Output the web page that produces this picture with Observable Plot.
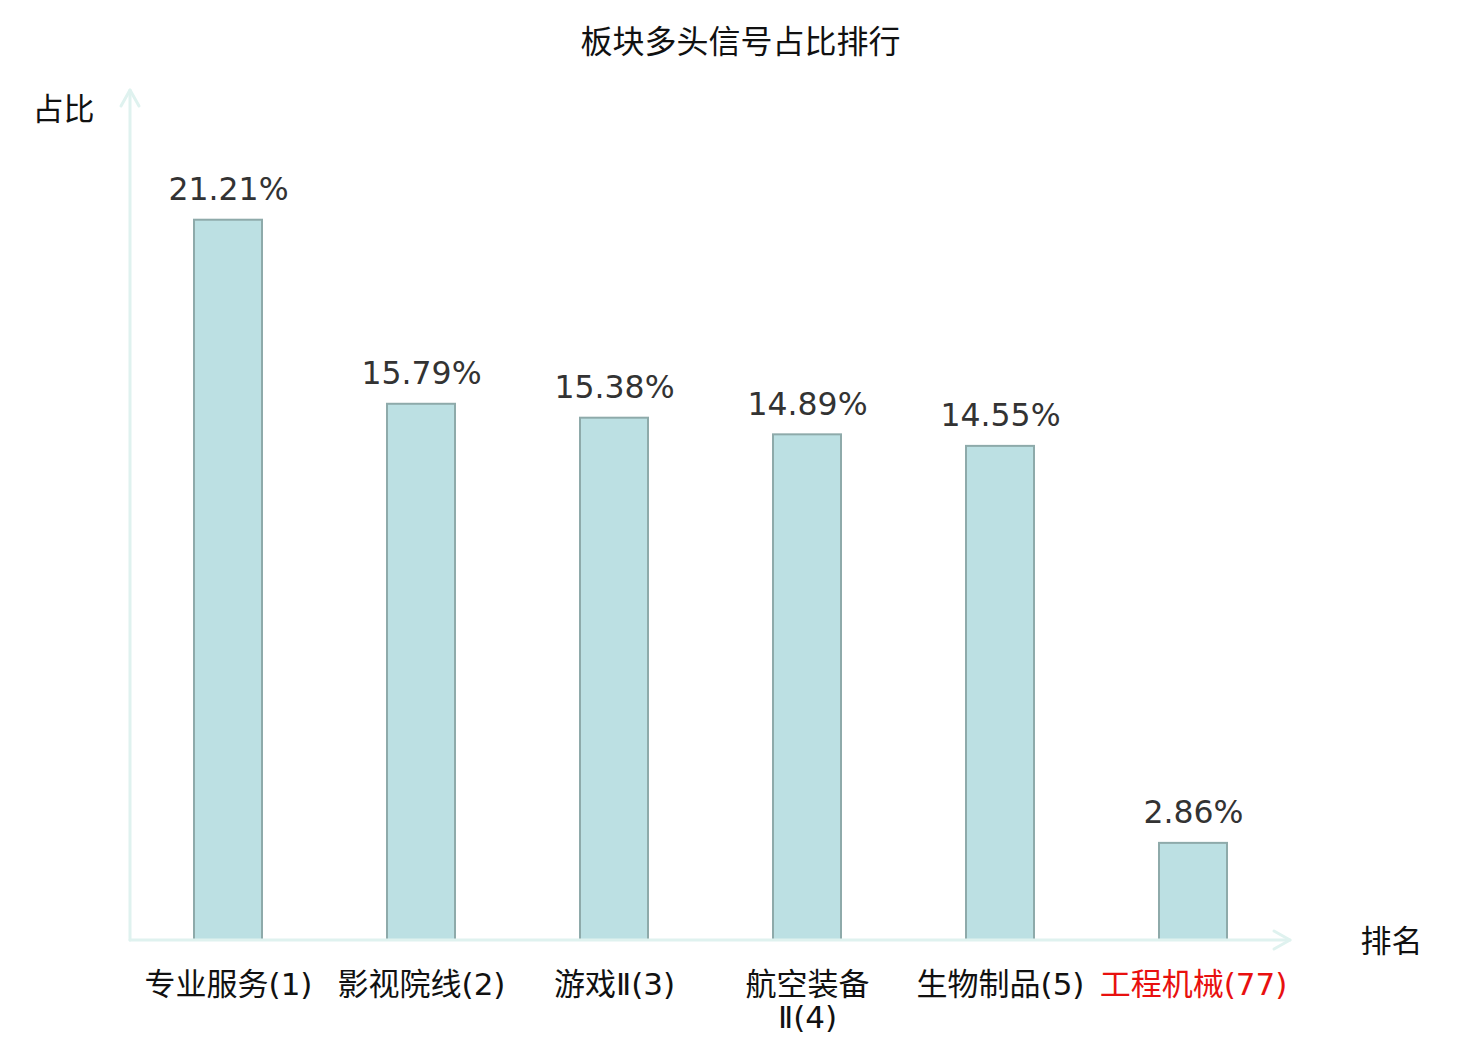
<!DOCTYPE html>
<html>
<head>
<meta charset="utf-8">
<script src="https://cdn.jsdelivr.net/npm/d3@7"></script>
<script src="https://cdn.jsdelivr.net/npm/@observablehq/plot@0.6"></script>
<style>
  html, body { margin: 0; padding: 0; background: #fff; }
  #chart { width: 1480px; height: 1040px; }
</style>
</head>
<body>
<div id="chart"></div>
<script>
const categories = ["专业服务(1)", "影视院线(2)", "游戏Ⅱ(3)", "航空装备Ⅱ(4)", "生物制品(5)", "工程机械(77)"];
const tickLabels = ["专业服务(1)", "影视院线(2)", "游戏Ⅱ(3)", "航空装备\nⅡ(4)", "生物制品(5)", "工程机械(77)"];
const values = [21.21, 15.79, 15.38, 14.89, 14.55, 2.86];
const highlight = [false, false, false, false, false, true];
const title = "板块多头信号占比排行";
const yTitle = "占比";
const xTitle = "排名";

const data = categories.map((c, i) => ({cat: c, value: values[i], label: tickLabels[i], hl: highlight[i]}));

const axisColor = "#dff2ef";
const cjk = "'Noto Sans CJK SC', sans-serif";
const mixed = "'DejaVu Sans', 'Noto Sans CJK SC', sans-serif";

function axes(index, scales, values, dimensions) {
  const {marginLeft, marginTop, width, height, marginRight, marginBottom} = dimensions;
  const x0 = marginLeft, y0 = height - marginBottom;
  const x1 = width - marginRight, yTop = marginTop - 1;
  const g = d3.create("svg:g").attr("fill", "none").attr("stroke", axisColor)
    .attr("stroke-width", 3).attr("stroke-linecap", "round").attr("stroke-linejoin", "round");
  g.append("line").attr("x1", x0).attr("y1", y0).attr("x2", x0).attr("y2", yTop);
  g.append("polyline").attr("points", `${x0-9},${yTop+16} ${x0},${yTop} ${x0+9},${yTop+16}`);
  g.append("line").attr("x1", x0).attr("y1", y0).attr("x2", x1).attr("y2", y0);
  g.append("polyline").attr("points", `${x1-16},${y0-9} ${x1},${y0} ${x1-16},${y0+9}`);
  return g.node();
}

const chart = Plot.plot({
  width: 1480,
  height: 1040,
  marginLeft: 130,
  marginRight: 190,
  marginTop: 91,
  marginBottom: 100,
  x: {domain: categories, paddingInner: 0.65, paddingOuter: 0.325, axis: null},
  y: {domain: [0, 25], axis: null},
  marks: [
    Plot.barY(data, {x: "cat", y: "value", fill: "#bce0e3", stroke: "#8eaaaa", strokeWidth: 2}),
    axes,
    Plot.text(data, {x: "cat", y: "value", text: d => d.value.toFixed(2) + "%", dy: -30,
      lineAnchor: "middle", fontSize: 31.5, fill: "#333", fontFamily: "'DejaVu Sans', sans-serif"}),
    Plot.text(data, {x: "cat", frameAnchor: "bottom", text: "label", lineAnchor: "top",
      dy: 31, lineHeight: 1.06, fontSize: 31, fontFamily: mixed,
      fill: d => d.hl ? "#e8100f" : "#111"}),
    Plot.text([title], {frameAnchor: "top", lineAnchor: "middle", dx: 30, dy: -49, text: d => d, fontSize: 32, fontFamily: cjk, fill: "#111"}),
    Plot.text([yTitle], {frameAnchor: "top-left", lineAnchor: "middle", dx: -67, dy: 19, text: d => d, fontSize: 31, fontFamily: cjk, fill: "#111", textAnchor: "middle"}),
    Plot.text([xTitle], {frameAnchor: "bottom-right", lineAnchor: "middle", dx: 101, dy: 2, text: d => d, fontSize: 31, fontFamily: cjk, fill: "#111", textAnchor: "middle"})
  ]
});
document.getElementById("chart").append(chart);
</script>
</body>
</html>
